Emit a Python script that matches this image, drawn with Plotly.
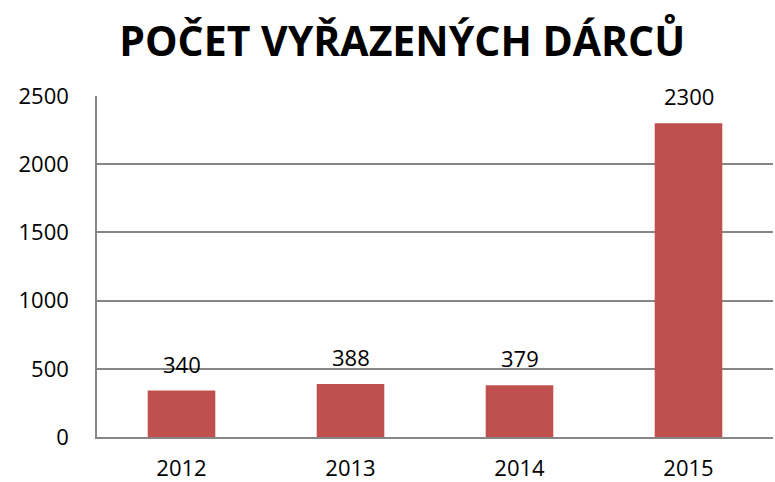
import plotly.graph_objects as go

years = ["2012", "2013", "2014", "2015"]
values = [340, 388, 379, 2300]
y_ticks = [0, 500, 1000, 1500, 2000, 2500]

title_text = "POČET VYŘAZENÝCH DÁRCŮ"
bar_color = "#C0504D"
grid_color = "#868686"
font_family = "Open Sans, Liberation Sans, sans-serif"

fig = go.Figure()
fig.add_trace(go.Bar(
    x=years, y=values, marker=dict(color=bar_color, line=dict(width=0)),
    width=0.4, showlegend=False, hoverinfo="x+y",
))

for i, v in enumerate(values):
    fig.add_annotation(x=i, y=v, text=str(v), showarrow=False,
                       yshift=27, yanchor="middle",
                       font=dict(family=font_family, size=22, color="#000000"))

fig.update_layout(
    width=775, height=482,
    margin=dict(l=97, r=2, t=96, b=45),
    paper_bgcolor="white", plot_bgcolor="white",
    title=dict(text=title_text, x=0.519, xanchor="center", y=0.913, yanchor="middle",
               font=dict(family=font_family, size=41, color="#000000", weight="bold")),
    bargap=0.6,
    xaxis=dict(
        type="category", range=[-0.5, len(years) - 0.5], automargin=False,
        showline=True, linecolor=grid_color, linewidth=1.5,
        showgrid=False, ticks="", ticklabelstandoff=11,
        tickfont=dict(family=font_family, size=22, color="#000000"),
    ),
    yaxis=dict(
        range=[0, 2500], tickvals=y_ticks, ticktext=[str(t) for t in y_ticks],
        automargin=False,
        showline=True, linecolor=grid_color, linewidth=1.5,
        showgrid=True, gridcolor=grid_color, gridwidth=1.5,
        zeroline=False, ticks="", ticklabelstandoff=22,
        tickfont=dict(family=font_family, size=22, color="#000000"),
    ),
)

fig.write_html("out.html")
